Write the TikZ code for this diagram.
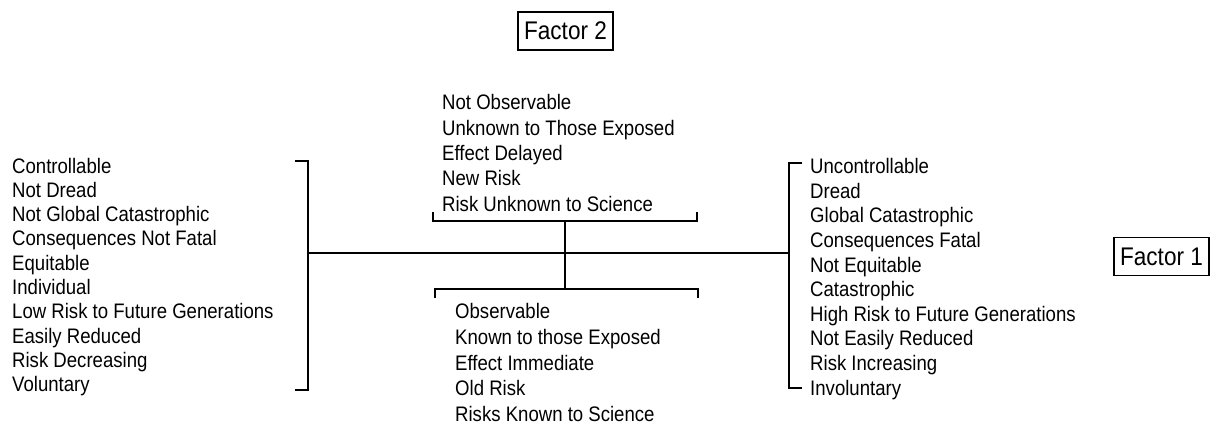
\documentclass[tikz,border=0pt]{standalone}
\usepackage{fontspec}
\setmainfont[FakeStretch=0.885]{Liberation Sans}
\begin{document}
\begin{tikzpicture}[x=1pt,y=-1pt,
  listtext/.style={inner sep=0pt, align=left, font=\fontsize{21}{24.3}\selectfont},
  factorbox/.style={draw, line width=1.5pt, inner xsep=6pt, inner ysep=5pt, minimum height=38pt, font=\fontsize{25.5}{28}\selectfont},
  bracketline/.style={line width=1.4pt},
  axisline/.style={line width=1.9pt}]
\useasboundingbox (0,0) rectangle (1218,424);

% factor labels
\node[factorbox] (f2) at (565.5,31) {Factor 2};
\node[factorbox] (f1) at (1161.5,256.5) {Factor 1};

% the four lists of risk characteristics
\node[listtext, anchor=west] (left) at (12,277) {Controllable\\Not Dread\\Not Global Catastrophic\\Consequences Not Fatal\\Equitable\\Individual\\Low Risk to Future Generations\\Easily Reduced\\Risk Decreasing\\Voluntary};
\node[listtext, anchor=west, font=\fontsize{21}{24.6}\selectfont] (right) at (810,279) {Uncontrollable\\Dread\\Global Catastrophic\\Consequences Fatal\\Not Equitable\\Catastrophic\\High Risk to Future Generations\\Not Easily Reduced\\Risk Increasing\\Involuntary};
\node[listtext, anchor=west, font=\fontsize{21}{25.3}\selectfont] (top) at (442,153) {Not Observable\\Unknown to Those Exposed\\Effect Delayed\\New Risk\\Risk Unknown to Science};
\node[listtext, anchor=west, font=\fontsize{21}{25.6}\selectfont] (bottom) at (455,362.5) {Observable\\Known to those Exposed\\Effect Immediate\\Old Risk\\Risks Known to Science};

% bracket anchor points
\coordinate (lb) at (308,253);
\coordinate (rb) at (789,253);
\coordinate (tb) at (565,221);
\coordinate (bb) at (565,289);

% brackets
\draw[bracketline] (295,161) -| (308,390) -- (295,390);
\draw[bracketline] (802,163) -| (789,388) -- (802,388);
\draw[bracketline] (433,212) |- (697,221) -- (697,212);
\draw[bracketline] (435,298) |- (698,289) -- (698,298);

% the two factor axes
\draw[axisline] (lb) -- (rb);
\draw[axisline] (tb) -- (bb);
\end{tikzpicture}
\end{document}
